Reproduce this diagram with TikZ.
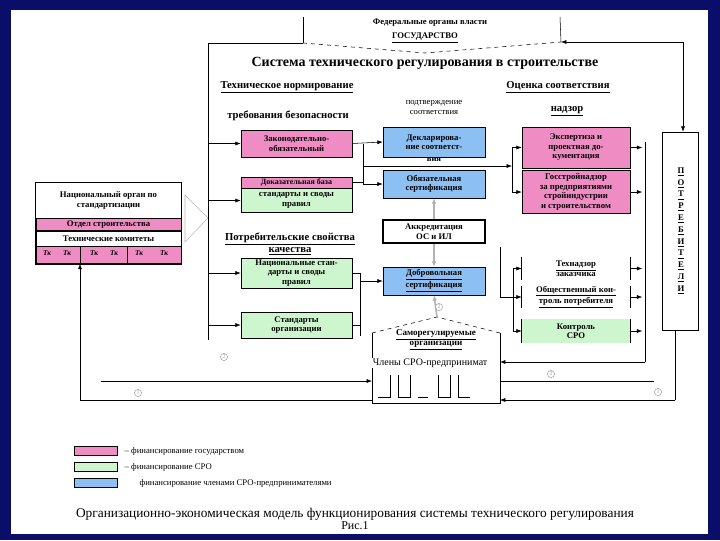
\documentclass[tikz,border=0pt]{standalone}
\usepackage{fontspec}
\setmainfont{Liberation Serif}
\usetikzlibrary{arrows.meta,positioning}

\definecolor{slidebg}{RGB}{10,14,105}
\definecolor{govpink}{RGB}{240,140,196}
\definecolor{srogreen}{RGB}{206,246,206}
\definecolor{memblue}{RGB}{140,192,242}

\begin{document}
\begin{tikzpicture}[x=0.75pt,y=-0.75pt]
\tikzset{
  boxfont/.style={font=\bfseries\fontsize{6.5}{7.1}\selectfont},
  colbox/.style={draw,boxfont,align=center,inner sep=0pt,minimum width=83.25pt},
  midbox/.style={draw,boxfont,align=center,inner sep=0pt,minimum width=76.5pt},
  rightbox/.style={draw,boxfont,align=center,inner sep=0pt,minimum width=81pt},
  heading/.style={font=\bfseries\fontsize{8}{9}\selectfont,align=center},
  label/.style={font=\fontsize{6.5}{7.5}\selectfont,align=center},
  arr/.style={-{Latex[length=4pt,width=3pt]}},
  grayarr/.style={-{Latex[length=4pt,width=3.5pt]},gray!60,line width=1.2pt},
  numcirc/.style={circle,draw,gray!70,inner sep=0.6pt,font=\fontsize{4.5}{5}\selectfont}
}
% slide frame
\fill[slidebg] (0,0) rectangle (720,540);
\fill[white] (11,10) rectangle (708,534);

% state level
\node[label,font=\bfseries\fontsize{6.5}{7.5}\selectfont] (fed) at (430,23) {Федеральные органы власти};
\node[label,font=\bfseries\fontsize{6.5}{7.5}\selectfont] (gos) at (425,38) {\underline{ГОСУДАРСТВО}};
\node[font=\bfseries\fontsize{10.5}{11}\selectfont] (sys) at (425,63) {Система технического регулирования в строительстве};
\coordinate (gL) at (303,17);
\coordinate (gLb) at (303,43);
\coordinate (gR) at (560,17);
\coordinate (gRb) at (561,42);
\coordinate (gV) at (425,53);
\coordinate (busTop) at (208,43);
\coordinate (cTop) at (683,42);
\draw (gL) -- (gLb);
\draw (gR) -- (gRb);
\draw (busTop) -- (gLb);
\draw[dashed] (gLb) -- (gV) -- (gRb);
\draw[arr] (cTop) -- (gRb);

\node[heading] (tn) at (287,87) {\underline{Техническое нормирование}};
\node[heading] (ots) at (558,87) {\underline{Оценка соответствия}};
\node[heading] (treb) at (288,116) {требования безопасности};
\node[label] (podtv) at (434,107) {подтверждение\\соответствия};
\node[heading] (nadzor) at (567,111) {\underline{надзор}};

% technical regulation column
\node[colbox,fill=govpink,minimum height=20.25pt] (zakon) at (296.5,143.5) {Законодательно-\\обязательный};
\node[colbox,fill=govpink,minimum height=8.25pt,font=\bfseries\fontsize{6}{6.5}\selectfont] (dokaz) at (296.5,182.5) {Доказательная база};
\node[colbox,fill=srogreen,minimum height=18pt,anchor=north] (standart) at (dokaz.south) {стандарты и своды\\правил};
\node[heading] (potreb) at (290,244) {\underline{Потребительские свойства}\\\underline{качества}};
\node[colbox,fill=srogreen,minimum height=22.5pt] (natst) at (296.5,273) {Национальные стан-\\дарты и своды\\правил};
\node[colbox,fill=srogreen,minimum height=19.5pt] (stdorg) at (296.5,325) {Стандарты\\организации};

% conformity column
\node[midbox,fill=memblue,minimum height=22.5pt] (deklar) at (434,142) {Декларирова-\\ние соответст-};
\node[boxfont,inner sep=0pt,anchor=north] (deklarend) at (deklar.south) {вия};
\node[midbox,fill=memblue,minimum height=21pt] (oblig) at (434,184) {Обязательная\\сертификация};
\node[midbox,fill=white,line width=1.2pt,minimum height=17.25pt] (akkr) at (434,231.5) {Аккредитация\\ОС и ИЛ};
\node[midbox,fill=memblue,minimum height=21pt] (dobro) at (434,281) {\underline{Добровольная}\\\underline{сертификация}};

% supervision column
\node[rightbox,fill=govpink,minimum height=30.75pt] (ekspert) at (576,147.5) {Экспертиза и\\проектная до-\\кументация};
\node[rightbox,fill=govpink,minimum height=32.25pt] (gosstroy) at (576,192) {Госстройнадзор\\за предприятиями\\стройиндустрии\\и строительством};
\node[rightbox,draw=none,minimum height=17.25pt] (tehnadzor) at (576,268.5) {\underline{Технадзор}\\заказчика};
\node[rightbox,draw=none,minimum height=15pt] (obshch) at (576,297) {\underline{Общественный кон-}\\\underline{троль потребителя}};
\node[rightbox,fill=srogreen,draw=none,minimum height=18pt] (kontrol) at (576,331) {Контроль\\СРО};
\foreach \nd in {tehnadzor,obshch,kontrol}{
  \draw (\nd.north west) -- (\nd.south west);
  \draw (\nd.north east) -- (\nd.south east);
}

% consumers
\node[draw,minimum width=27pt,minimum height=148.5pt] (consum) at (680,231) {};
\foreach \ch [count=\i] in {П,О,Т,Р,Е,Б,И,Т,Е,Л,И}
  \node[boxfont,inner sep=0pt] at (681,160+\i*11.8) {\underline{\ch}};
\draw[arr] (cTop) -- (consum.north -| cTop);

% national standardisation body
\node[boxfont,minimum width=108.75pt,minimum height=26.25pt,align=center,inner sep=1pt] (natorg) at (108.5,200.5) {Национальный орган по\\стандартизации};
\node[boxfont,draw,fill=govpink,minimum width=108.75pt,minimum height=9pt,inner sep=0pt,anchor=north] (otdel) at (natorg.south) {Отдел строительства};
\node[boxfont,draw,minimum width=108.75pt,minimum height=11.25pt,inner sep=0pt,anchor=north] (tkom) at (otdel.south) {Технические комитеты};
\node[draw,fill=govpink,minimum width=108.75pt,minimum height=12.75pt,inner sep=0pt,anchor=north] (tkrow) at (tkom.south) {};
\draw (natorg.north west) rectangle (tkrow.south east);
\draw (80,0 |- tkrow.north) -- (80,0 |- tkrow.south);
\draw (127,0 |- tkrow.north) -- (127,0 |- tkrow.south);
\foreach \xx in {47,67,94,114,139,164}
  \node[boxfont,font=\bfseries\itshape\fontsize{5.5}{6}\selectfont,inner sep=0pt] at (\xx,253.5) {Тк};
\draw[gray!55] (185,195) -- (208,218) -- (185,242) -- cycle;

% left bus into the standards column
\coordinate (busBot) at (208,340);
\draw (busTop) -- (busBot);
\foreach \nd in {zakon,standart,natst,stdorg}
  \draw[arr] (busTop |- \nd.west) -- (\nd.west);

% standards to conformity
\coordinate (jA) at (363,143.5);
\coordinate (jB) at (363,166);
\coordinate (jC) at (512,166);
\draw[arr] (zakon.east) -- (deklar.west);
\draw (jA) -- (jB);
\draw (dokaz.east) -| (jB);
\draw (jB) -- (jB |- oblig.west);
\draw[arr] (jB |- oblig.west) -- (oblig.west);
\draw[arr] (jB) -- (jC);
\draw (jC |- ekspert.west) -- (jC |- gosstroy.west);
\draw[arr] (jC |- ekspert.west) -- (ekspert.west);
\draw[arr] (jC |- gosstroy.west) -- (gosstroy.west);

\coordinate (jD) at (360,273);
\coordinate (jE) at (360,336);
\draw (natst.east) -- (jD) -- (jE);
\draw (stdorg.east) -- (stdorg.east -| jE);
\draw[arr] (jD |- dobro.west) -- (dobro.west);

% accreditation
\draw[grayarr] (akkr.north) -- (oblig.south);
\draw[grayarr] (akkr.south) -- (dobro.north);

% self-regulating organisations
\coordinate (sroL) at (372,333);
\coordinate (sroR) at (500,333);
\coordinate (sroTop) at (437,317);
\coordinate (sroBL) at (372,403);
\coordinate (sroBR) at (500,403);
\draw[dashed] (sroL) -- (sroTop) -- (sroR);
\draw (sroL) -- (sroBL) -- (sroBR) -- (sroR);
\node[label,font=\bfseries\fontsize{6.8}{7.6}\selectfont] (sro) at (436,340) {\underline{Саморегулируемые}\\\underline{организации}};
\node[label,font=\fontsize{7.5}{8}\selectfont,fill=white,inner sep=0.5pt,anchor=west] (chleny) at (372,363) {Члены СРО-предпринимат};
\draw[grayarr] (sroTop) -- (dobro.south);
\node[numcirc,fill=white] at (439,307) {2};
% members
\draw (378,397) -- (390,397) -- (390,375);
\draw (398,375) -- (398,397) -- (410,397) -- (410,375);
\draw (418,397) -- (428,397);
\draw (438,375) -- (438,397) -- (450,397) -- (450,375);
\draw (458,375) -- (458,397) -- (470,397);

% control of self-regulating organisations
\coordinate (jF) at (500,247);
\coordinate (jG) at (513,297);
\draw (jF) -- (jF |- obshch.west);
\draw[arr] (jF |- obshch.west) -- (obshch.west);
\draw (jG |- tehnadzor.west) -- (jG |- kontrol.west);
\draw[arr] (jG |- tehnadzor.west) -- (tehnadzor.west);
\draw[arr] (jG |- kontrol.west) -- (kontrol.west);

% supervision outputs
\coordinate (jH) at (645,142);
\coordinate (jI) at (645,362);
\foreach \nd in {ekspert,gosstroy,tehnadzor,obshch,kontrol}
  \draw[arr] (\nd.east) -- ++(12,0);
\draw (jH) -- (jI);
\draw[arr] (jI) -- (jI -| sroR);

% feedback loops
\coordinate (fbR) at (675,400);
\coordinate (fbL) at (80,400);
\coordinate (fbS) at (101,381);
\coordinate (fbE) at (654,381);
\draw (consum.south -| fbR) -- (fbR);
\draw[arr] (fbR) -- (sroBR |- fbR);
\draw (sroBL |- fbL) -- (fbL);
\draw[arr] (fbL) -- (fbL |- tkrow.south);
\draw[arr] (fbS) -- (fbS -| sroL);
\draw (fbE -| sroR) -- (fbE);
\node[numcirc] at (224,357) {2};
\node[numcirc] at (138,393) {1};
\node[numcirc] at (551,374) {2};
\node[numcirc] at (658,392) {1};

% legend
\node[draw,fill=govpink,minimum width=32pt,minimum height=6.5pt,inner sep=0pt] (legpink) at (96,451) {};
\node[draw,fill=srogreen,minimum width=32pt,minimum height=6.5pt,inner sep=0pt] (leggreen) at (96,467) {};
\node[draw,fill=memblue,minimum width=32pt,minimum height=6.5pt,inner sep=0pt] (legblue) at (96,483) {};
\node[label,anchor=west] (legt1) at (120,451) {– финансирование государством};
\node[label,anchor=west] (legt2) at (120,467) {– финансирование СРО};
\node[label,anchor=west] (legt3) at (135,483) {финансирование членами СРО-предпринимателями};

% caption
\node[font=\fontsize{10}{11}\selectfont] (capt) at (355,514) {Организационно-экономическая модель функционирования системы технического регулирования};
\node[font=\fontsize{9}{10}\selectfont] (ris) at (355,526) {Рис.1};
\end{tikzpicture}
\end{document}
